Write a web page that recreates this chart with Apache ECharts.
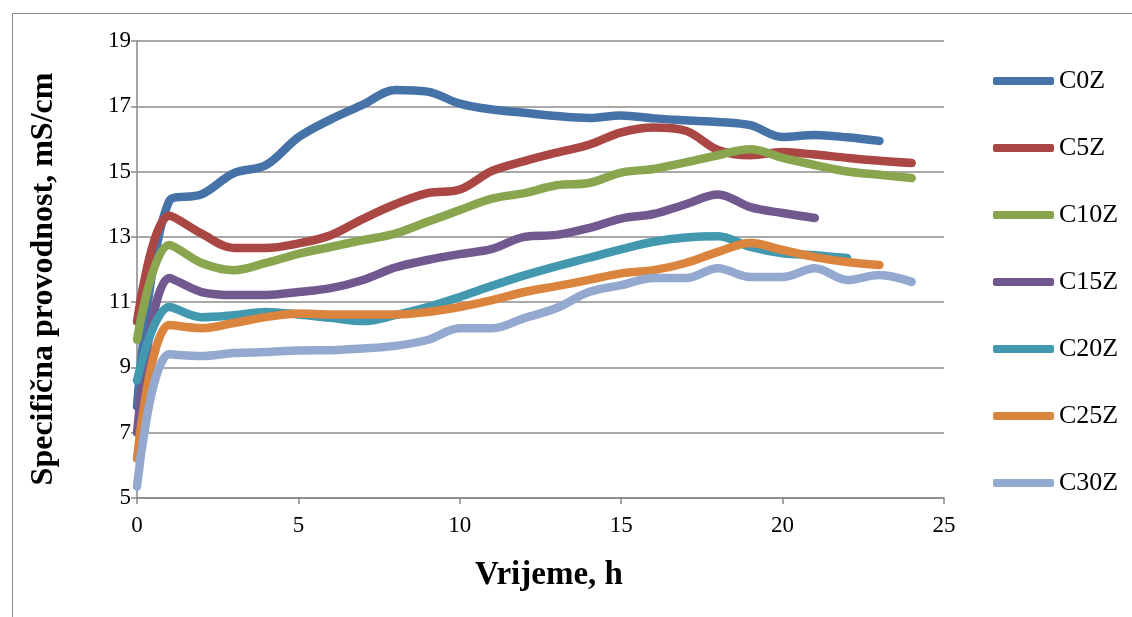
<!DOCTYPE html>
<html>
<head>
<meta charset="utf-8">
<script src="https://cdn.jsdelivr.net/npm/echarts@6/dist/echarts.min.js"></script>
<style>
  html, body { margin: 0; padding: 0; background: #fff; }
  #chart { width: 1132px; height: 617px; }
</style>
</head>
<body>
<div id="chart"></div>
<script>
// time in hours
const hours = [0, 1, 2, 3, 4, 5, 6, 7, 8, 9, 10, 11, 12, 13, 14, 15, 16, 17, 18, 19, 20, 21, 22, 23, 24];

// conductivity, mS/cm
const c0z = [7.8, 14.1, 14.3, 14.95, 15.2, 16.05, 16.6, 17.05, 17.5, 17.45, 17.08, 16.9, 16.8, 16.7, 16.64, 16.72, 16.63, 16.57, 16.52, 16.42, 16.06, 16.12, 16.05, 15.94];
const c5z = [10.4, 13.65, 13.1, 12.66, 12.66, 12.8, 13.05, 13.55, 14.0, 14.34, 14.45, 15.02, 15.32, 15.58, 15.82, 16.2, 16.35, 16.25, 15.66, 15.5, 15.6, 15.52, 15.42, 15.33, 15.26];
const c10z = [9.85, 12.75, 12.2, 11.98, 12.2, 12.48, 12.69, 12.9, 13.1, 13.46, 13.82, 14.17, 14.34, 14.58, 14.65, 14.97, 15.08, 15.28, 15.5, 15.68, 15.42, 15.2, 15.0, 14.9, 14.8];
const c15z = [7.0, 11.74, 11.31, 11.22, 11.22, 11.31, 11.43, 11.68, 12.06, 12.29, 12.47, 12.63, 13.0, 13.06, 13.27, 13.56, 13.7, 14.0, 14.3, 13.91, 13.73, 13.58];
const c20z = [8.6, 10.85, 10.54, 10.6, 10.7, 10.62, 10.52, 10.42, 10.6, 10.85, 11.16, 11.5, 11.82, 12.1, 12.36, 12.62, 12.85, 12.98, 13.02, 12.69, 12.5, 12.44, 12.35];
const c25z = [6.2, 10.3, 10.2, 10.36, 10.54, 10.65, 10.62, 10.62, 10.62, 10.7, 10.85, 11.06, 11.31, 11.49, 11.68, 11.88, 11.98, 12.2, 12.54, 12.81, 12.6, 12.38, 12.23, 12.14];
const c30z = [5.35, 9.4, 9.35, 9.44, 9.47, 9.52, 9.53, 9.58, 9.66, 9.84, 10.2, 10.2, 10.51, 10.82, 11.31, 11.52, 11.74, 11.74, 12.04, 11.77, 11.77, 12.04, 11.68, 11.83, 11.62];

const seriesNames = ["C0Z", "C5Z", "C10Z", "C15Z", "C20Z", "C25Z", "C30Z"];
const seriesData = [c0z, c5z, c10z, c15z, c20z, c25z, c30z];
const colors = ["#4572A7", "#AA4643", "#89A54E", "#71588F", "#4198AF", "#DB843D", "#93A9CF"];

const font = "Liberation Serif";

let chart = echarts.init(document.getElementById("chart"));

let option = {
  backgroundColor: "#fff",
  animation: false,
  color: colors,
  textStyle: { fontFamily: font, color: "#000" },
  grid: { left: 137, top: 41, width: 807, height: 457, containLabel: false },
  graphic: [
    {
      type: "rect",
      left: 10,
      top: 11,
      shape: { width: 1200, height: 700 },
      style: { fill: "none", stroke: "#8c8c8c", lineWidth: 1 },
      silent: true,
    },
    //axis titles
    {
      type: "text",
      x: 44,
      y: 279,
      rotation: Math.PI / 2,
      style: {
        text: "Specifična provodnost, mS/cm",
        font: "bold 32px 'Liberation Serif'",
        fill: "#000",
        align: "center",
        verticalAlign: "middle",
      },
    },
    {
      type: "text",
      x: 549,
      y: 575,
      style: {
        text: "Vrijeme, h",
        font: "bold 33px 'Liberation Serif'",
        fill: "#000",
        align: "center",
        verticalAlign: "middle",
      },
    },
  ],
  legend: {
    orient: "vertical",
    left: 988,
    top: 63,
    icon: "roundRect",
    itemWidth: 61,
    itemHeight: 8,
    itemGap: 41,
    textStyle: { fontFamily: font, fontSize: 26, color: "#000" },
    data: seriesNames,
  },
  xAxis: {
    type: "value",
    min: 0,
    max: 25,
    interval: 5,
    axisLine: { show: true, lineStyle: { color: "#888", width: 1.5 } },
    axisTick: { show: true, length: 6, lineStyle: { color: "#888", width: 1.5 } },
    axisLabel: { fontFamily: font, fontSize: 23, color: "#000", margin: 16 },
    splitLine: { show: false },
  },
  yAxis: {
    type: "value",
    min: 5,
    max: 19,
    interval: 2,
    axisLine: { show: true, lineStyle: { color: "#888", width: 1.5 } },
    axisTick: { show: true, length: 6, lineStyle: { color: "#888", width: 1.5 } },
    axisLabel: { fontFamily: font, fontSize: 23, color: "#000", margin: 6 },
    splitLine: { show: true, lineStyle: { color: "#8c8c8c", width: 1.5 } },
  },
  series: seriesNames.map(function (name, i) {
    return {
      name: name,
      type: "line",
      data: seriesData[i].map(function (v, k) {
        return [hours[k], v];
      }),
      smooth: 0.35,
      symbol: "none",
      lineStyle: { width: 8.5, color: colors[i], cap: "round", join: "round" },
      itemStyle: { color: colors[i] },
    };
  }),
};

chart.setOption(option, true);
</script>
</body>
</html>
